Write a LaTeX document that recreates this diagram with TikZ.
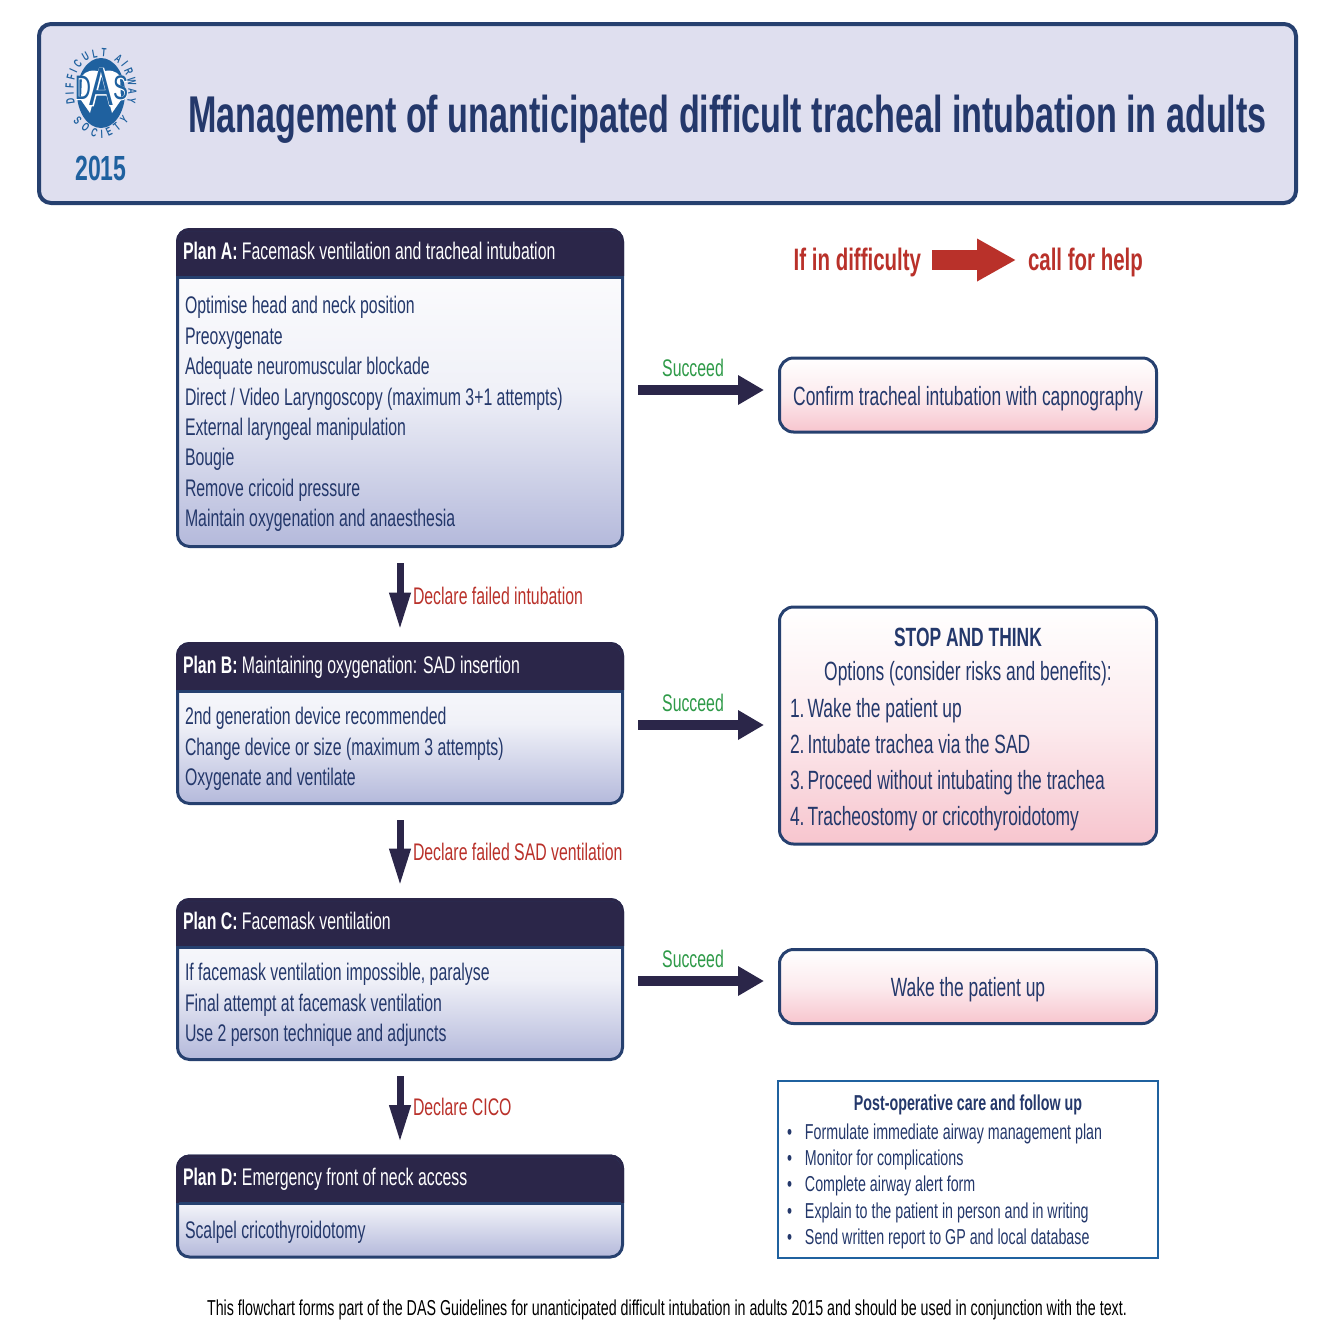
\documentclass[tikz,border=0pt]{standalone}
\usepackage{fontspec}
\setmainfont{Liberation Sans}[FakeStretch=0.66]
\newfontfamily\halofont{Liberation Sans}[FakeStretch=0.66,FakeBold=3]
\usetikzlibrary{arrows.meta, positioning, calc, decorations.text}

\definecolor{dasnavy}{HTML}{24386B}
\definecolor{dashead}{HTML}{2B2649}
\definecolor{dasline}{HTML}{26406F}
\definecolor{dasblue}{HTML}{1F619F}
\definecolor{dasred}{HTML}{B9312A}
\definecolor{dasgreen}{HTML}{2E9A48}
\definecolor{dasband}{HTML}{DFDFEF}
\definecolor{daslav}{HTML}{B4B9DB}
\definecolor{daspink}{HTML}{F7C5CE}

\begin{document}
\begin{tikzpicture}[
  x=1pt, y=-1pt,
  every node/.style={inner sep=0pt, outer sep=0pt, text=dasnavy},
  planbox/.style={rectangle, rounded corners=12pt, draw=dasline, line width=3pt, minimum width=445pt, fill=white,
    path picture={\shade[sharp corners, top color=white, bottom color=daslav, middle color=daslav!20] ([yshift=-46pt]path picture bounding box.north west) rectangle (path picture bounding box.south east);
      \fill[sharp corners, dashead] (path picture bounding box.north west) rectangle ([yshift=-46pt]path picture bounding box.north east);
      \fill[sharp corners, dasline] ([yshift=-46pt]path picture bounding box.north west) rectangle ([yshift=-49pt]path picture bounding box.north east);}},
  outcome/.style={rectangle, rounded corners=14pt, draw=dasline, line width=3pt, minimum width=377pt,
    top color=white, bottom color=daspink, middle color=daspink!35, text height=24pt, text depth=4pt, font=\fontsize{26.4}{30}\selectfont},
  planhead/.style={anchor=west, text=white, text height=20pt, text depth=4pt, font=\fontsize{24}{28}\selectfont},
  plantext/.style={anchor=north west, align=left, font=\fontsize{24}{30.4}\selectfont},
  succeed/.style={text=dasgreen, font=\fontsize{24}{28}\selectfont},
  declare/.style={anchor=west, text=dasred, font=\fontsize{24}{28}\selectfont},
  flowright/.style={-{Triangle[length=26pt,width=28pt]}, dashead, line width=10pt, shorten <=15.5pt, shorten >=15.5pt},
  flowdown/.style={-{Triangle[length=37pt,width=20pt]}, dashead, line width=7pt, shorten <=16.5pt, shorten >=14pt},
  helptext/.style={text=dasred, text height=26pt, text depth=6pt, font=\fontsize{31}{36}\bfseries\selectfont},
  postline/.style={anchor=west, text height=18pt, text depth=4pt, font=\fontsize{21.6}{24}\selectfont},
  halo/.style={text=white, font=\fontsize{34}{34}\halofont},
  logoletter/.style={text=dasblue, font=\fontsize{34}{34}\selectfont}
]
\useasboundingbox (0,0) rectangle (1334,1334);

% banner
\node[rectangle, rounded corners=12pt, draw=dasline, line width=4pt, fill=dasband, minimum width=1257pt, minimum height=179pt] (banner) at (667.5,113.5) {};
\node[anchor=west, font=\fontsize{51.7}{60}\bfseries\selectfont] (title) at (188,119) {Management of unanticipated difficult tracheal intubation in adults};
\node[text=dasblue, font=\fontsize{34.9}{36}\bfseries\selectfont] (year) at (101,168) {2015};

% logo
\fill[dasblue] (101,93) ellipse [x radius=24, y radius=35];
\fill[white] (101,72) .. controls (92,69) and (86,71) .. (82,76) -- (81,100) -- (90,113) -- cycle;
\fill[white] (101,72) .. controls (110,69) and (116,71) .. (120,76) -- (121,100) -- (112,113) -- cycle;
\path[decorate, decoration={text along path, text color=dasblue, text align={fit to path},
    text={|\fontsize{12}{12}\bfseries\selectfont|DIFFICULT AIRWAY}}]
  (75,103) .. controls (69,70) and (85,57) .. (101,57) .. controls (117,57) and (133,70) .. (127,103);
\path[decorate, decoration={text along path, text color=dasblue, text align={fit to path},
    text={|\fontsize{12}{12}\bfseries\selectfont|SOCIETY}}]
  (73,121) .. controls (83,132) and (92,138) .. (101,138) .. controls (110,138) and (119,132) .. (129,121);
\node[halo] (haloD) at (83,88) {D};
\node[halo, font=\fontsize{54}{54}\halofont] (haloA) at (101.5,87) {A};
\node[halo] (haloS) at (120.5,88) {S};
\node[logoletter] (logoD) at (83,88) {D};
\node[logoletter, font=\fontsize{54}{54}\selectfont] (logoA) at (101.5,87) {A};
\node[logoletter] (logoS) at (120.5,88) {S};

% plan boxes
\node[planbox, minimum height=317pt] (plana) at (400,388) {};
\node[planbox, minimum height=160pt] (planb) at (400,723.5) {};
\node[planbox, minimum height=160pt] (planc) at (400,979.5) {};
\node[planbox, minimum height=101pt] (pland) at (400,1206.5) {};

% dark edge round the headers
\foreach \plan in {plana,planb,planc,pland} {
  \begin{scope}
    \clip ([shift={(-3pt,3pt)}]\plan.north west) rectangle ([shift={(3pt,-46pt)}]\plan.north east);
    \draw[dashead, line width=3pt, rounded corners=12pt] (\plan.north west) rectangle (\plan.south east);
  \end{scope}
}

\node[planhead] (heada) at (183,251) {\textbf{Plan A:} Facemask ventilation and tracheal intubation};
\node[planhead] (headb) at (183,665) {\textbf{Plan B:} Maintaining oxygenation: SAD insertion};
\node[planhead] (headc) at (183,921) {\textbf{Plan C:} Facemask ventilation};
\node[planhead] (headd) at (183,1177) {\textbf{Plan D:} Emergency front of neck access};

\node[plantext] (texta) at (185,296.5) {Optimise head and neck position\\Preoxygenate\\Adequate neuromuscular blockade\\Direct / Video Laryngoscopy (maximum 3+1 attempts)\\External laryngeal manipulation\\Bougie\\Remove cricoid pressure\\Maintain oxygenation and anaesthesia};
\node[plantext] (textb) at (185,707.5) {2nd generation device recommended\\Change device or size (maximum 3 attempts)\\Oxygenate and ventilate};
\node[plantext] (textc) at (185,963.5) {If facemask ventilation impossible, paralyse\\Final attempt at facemask ventilation\\Use 2 person technique and adjuncts};
\node[plantext] (textd) at (185,1221) {Scalpel cricothyroidotomy};

% outcome boxes
\node[outcome, minimum height=74pt] (confirm) at (968,395) {Confirm tracheal intubation with capnography};
\node[outcome, minimum height=237pt] (stop) at (968,725.5) {};
\node[outcome, minimum height=74pt] (wake) at (968,986.5) {Wake the patient up};

\node[font=\fontsize{26.4}{30}\bfseries\selectfont] (stoptitle) at (968,637) {STOP AND THINK};
\node[font=\fontsize{26.4}{30}\selectfont] (stopoptions) at (968,674) {Options (consider risks and benefits):};
\node[anchor=north west, align=left, font=\fontsize{26.4}{36}\selectfont] (stoplist) at (790,698) {1.\hspace{3pt}Wake the patient up\\2.\hspace{3pt}Intubate trachea via the SAD\\3.\hspace{3pt}Proceed without intubating the trachea\\4.\hspace{3pt}Tracheostomy or cricothyroidotomy};

% post-op box
\node[rectangle, draw=dasblue, line width=2pt, fill=white, minimum width=380pt, minimum height=177pt] (postop) at (968,1169.5) {};
\node[font=\fontsize{21.6}{24}\bfseries\selectfont] (posttitle) at (968,1105) {Post-operative care and follow up};
\node[postline] (bulleta) at (787,1132) {\makebox[18pt][l]{\textbullet}Formulate immediate airway management plan};
\node[postline] (bulletb) at (787,1158) {\makebox[18pt][l]{\textbullet}Monitor for complications};
\node[postline] (bulletc) at (787,1184) {\makebox[18pt][l]{\textbullet}Complete airway alert form};
\node[postline] (bulletd) at (787,1211) {\makebox[18pt][l]{\textbullet}Explain to the patient in person and in writing};
\node[postline] (bullete) at (787,1237) {\makebox[18pt][l]{\textbullet}Send written report to GP and local database};

% call for help
\node[helptext, anchor=east] (difficulty) at (921,260) {If in difficulty};
\node[helptext, anchor=west] (callhelp) at (1028,260) {call for help};
\draw[-{Triangle[length=39pt,width=40pt]}, dasred, line width=20pt, shorten <=11pt, shorten >=12pt] (difficulty.east) -- (difficulty.east -| callhelp.west);

% arrows
\coordinate (exita) at ([yshift=-2pt]plana.east);
\coordinate (exitb) at ([yshift=-1.5pt]planb.east);
\coordinate (exitc) at ([yshift=-1.5pt]planc.east);
\draw[flowright] (exita) -- (exita -| confirm.west);
\draw[flowright] (exitb) -- (exitb -| stop.west);
\draw[flowright] (exitc) -- (exitc -| wake.west);
\draw[flowdown] (plana.south) -- (planb.north);
\draw[flowdown] (planb.south) -- (planc.north);
\draw[flowdown] (planc.south) -- (pland.north);

\node[succeed] (succeeda) at (693,368) {Succeed};
\node[succeed] (succeedb) at (693,703) {Succeed};
\node[succeed] (succeedc) at (693,959) {Succeed};
\node[declare] (declarea) at (413,596) {Declare failed intubation};
\node[declare] (declareb) at (413,852) {Declare failed SAD ventilation};
\node[declare] (declarec) at (413,1107) {Declare CICO};

% footnote
\node[text=black, font=\fontsize{21.6}{24}\selectfont] (footnote) at (667,1310) {This flowchart forms part of the DAS Guidelines for unanticipated difficult intubation in adults 2015 and should be used in conjunction with the text.};
\end{tikzpicture}
\end{document}
